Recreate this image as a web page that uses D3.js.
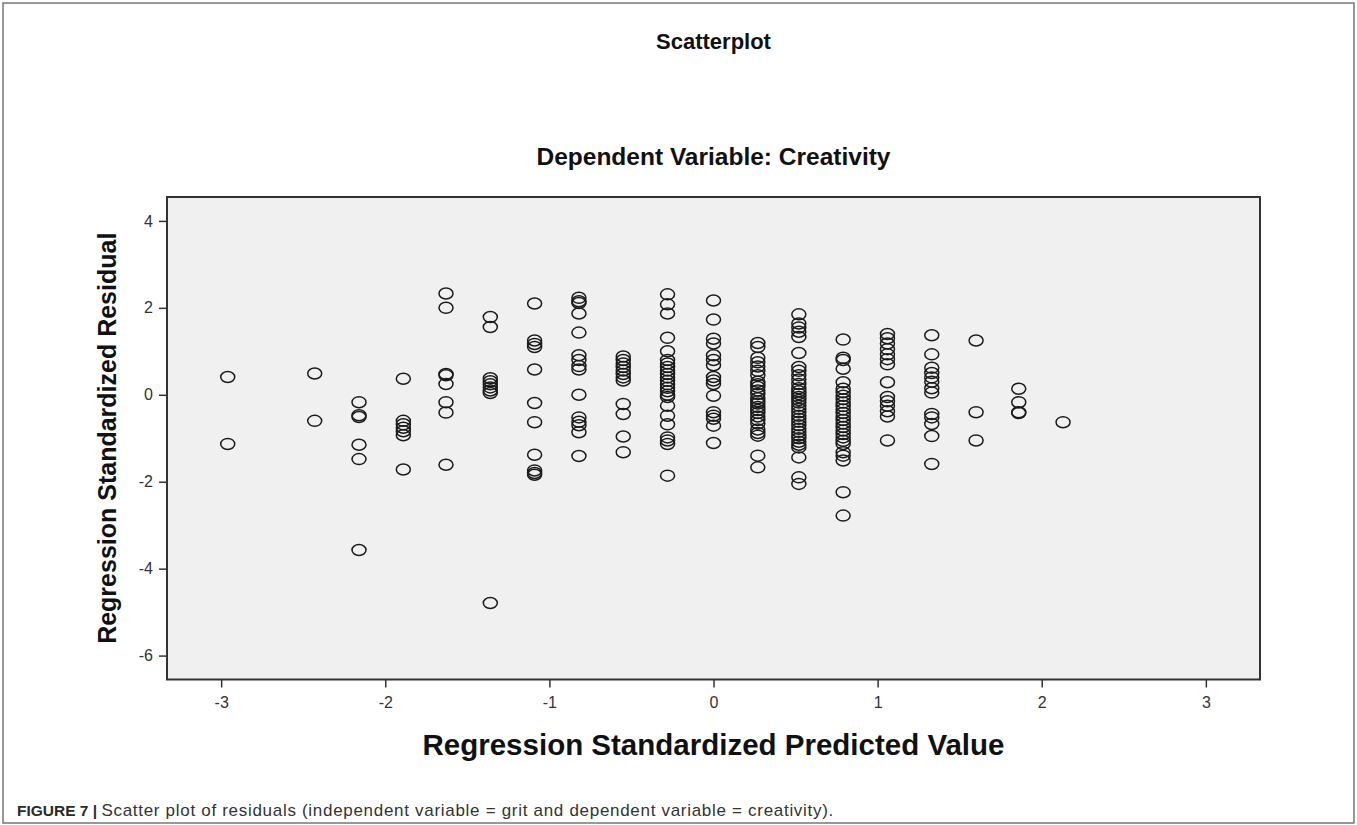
<!DOCTYPE html>
<html>
<head>
<meta charset="utf-8">
<script src="https://cdn.jsdelivr.net/npm/d3@7"></script>
<style>
  body { margin: 0; background: #fff; }
  svg text { font-family: "Liberation Sans", Arial, sans-serif; }
</style>
</head>
<body>
<div id="chart"></div>
<script>
// predicted value columns (x) and the residuals (y)
const predicted = [-2.96, -2.43, -2.16, -1.89, -1.63, -1.36, -1.09, -0.82, -0.55, -0.28,
                   0.00, 0.27, 0.52, 0.79, 1.06, 1.33, 1.60, 1.86, 2.13];
const residuals = [
  [0.41, -1.13],
  [0.49, -0.60],
  [-0.17, -0.47, -0.51, -1.15, -1.48, -3.57],
  [0.37, -0.60, -0.68, -0.76, -0.84, -0.93, -1.72],
  [2.33, 2.00, 0.48, 0.45, 0.25, -0.17, -0.41, -1.61],
  [1.79, 1.56, 0.38, 0.31, 0.24, 0.17, 0.10, 0.04, -4.79],
  [2.10, 1.25, 1.17, 1.10, 0.58, -0.19, -0.63, -1.38, -1.74, -1.80, -1.84],
  [2.23, 2.15, 2.11, 1.87, 1.43, 0.91, 0.80, 0.66, 0.58, 0.00, -0.52, -0.62, -0.70, -0.86, -1.41],
  [0.88, 0.80, 0.72, 0.64, 0.56, 0.48, 0.40, 0.33, -0.21, -0.44, -0.96, -1.32],
  [2.31, 2.08, 1.87, 1.31, 1.00, 0.80, 0.72, 0.64, 0.56, 0.48, 0.40, 0.32, 0.24, 0.16, 0.08,
   0.00, -0.05, -0.25, -0.48, -0.68, -0.98, -1.05, -1.13, -1.86],
  [2.17, 1.73, 1.29, 1.18, 0.91, 0.80, 0.68, 0.41, 0.33, 0.25, -0.02, -0.40, -0.48, -0.55, -0.71, -1.11],
  [1.19, 1.10, 0.85, 0.75, 0.65, 0.55, 0.45, 0.30, 0.24, 0.18, 0.10, 0.02, -0.08, -0.15, -0.20,
   -0.28, -0.35, -0.42, -0.50, -0.58, -0.66, -0.80, -0.88, -0.94, -1.40, -1.67],
  [1.85, 1.64, 1.55, 1.45, 1.33, 0.96, 0.64, 0.55, 0.45, 0.35, 0.25, 0.15, 0.08, 0.02, -0.05,
   -0.12, -0.18, -0.25, -0.32, -0.40, -0.48, -0.55, -0.62, -0.70, -0.78, -0.85, -0.93, -1.00,
   -1.08, -1.15, -1.21, -1.44, -1.90, -2.05],
  [1.27, 0.85, 0.80, 0.60, 0.29, 0.14, 0.06, -0.02, -0.10, -0.18, -0.26, -0.34, -0.42, -0.50,
   -0.58, -0.66, -0.74, -0.82, -0.90, -0.98, -1.06, -1.13, -1.32, -1.40, -1.51, -2.24, -2.78],
  [1.40, 1.30, 1.18, 1.05, 0.93, 0.82, 0.70, 0.29, -0.05, -0.15, -0.25, -0.38, -0.50, -1.05],
  [1.37, 0.93, 0.62, 0.50, 0.40, 0.30, 0.15, 0.05, -0.44, -0.52, -0.67, -0.95, -1.59],
  [1.25, -0.40, -1.05],
  [0.14, -0.17, -0.40, -0.42],
  [-0.63]
];
const xTicks = [-3, -2, -1, 0, 1, 2, 3];
const yTicks = [-6, -4, -2, 0, 2, 4];

const width = 1357, height = 825;
const plot = { left: 167, right: 1260, top: 197, bottom: 679.5 };

const points = [];
predicted.forEach((p, i) => residuals[i].forEach(r => points.push({ x: p, y: r })));

const svg = d3.select("#chart").append("svg")
    .attr("width", width)
    .attr("height", height);

// outer frame of the figure
svg.append("rect")
    .attr("x", 3).attr("y", 3)
    .attr("width", width - 6).attr("height", height - 5)
    .attr("fill", "none")
    .attr("stroke", "#777")
    .attr("stroke-width", 1.5);

const x = d3.scaleLinear().domain([-3.33, 3.33]).range([plot.left, plot.right]);
const y = d3.scaleLinear().domain([-6.55, 4.55]).range([plot.bottom, plot.top]);

svg.append("rect")
    .attr("x", plot.left).attr("y", plot.top)
    .attr("width", plot.right - plot.left)
    .attr("height", plot.bottom - plot.top)
    .attr("fill", "#f0f0f0")
    .attr("stroke", "#333")
    .attr("stroke-width", 2);

const xAxis = svg.append("g")
    .attr("transform", `translate(0,${plot.bottom})`)
    .call(d3.axisBottom(x).tickValues(xTicks).tickSize(8).tickPadding(9).tickFormat(d => String(d)));
const yAxis = svg.append("g")
    .attr("transform", `translate(${plot.left},0)`)
    .call(d3.axisLeft(y).tickValues(yTicks).tickSize(8).tickPadding(6).tickFormat(d => String(d)));
[xAxis, yAxis].forEach(a => {
  a.select(".domain").remove();
  a.selectAll(".tick line").attr("stroke", "#333").attr("stroke-width", 1.5);
  a.selectAll(".tick text")
    .attr("fill", "#333")
    .style("font-size", "16px")
    .style("font-family", "'Liberation Sans', Arial, sans-serif");
});

svg.append("g")
  .selectAll("ellipse")
  .data(points)
  .enter()
  .append("ellipse")
    .attr("cx", d => x(d.x))
    .attr("cy", d => y(d.y))
    .attr("rx", 7)
    .attr("ry", 5.5)
    .attr("fill", "none")
    .attr("stroke", "#1a1a1a")
    .attr("stroke-width", 1.5);

const cx = (plot.left + plot.right) / 2;
svg.append("text")
    .attr("x", cx).attr("y", 49)
    .attr("text-anchor", "middle")
    .style("font-size", "22px").style("font-weight", "bold")
    .attr("fill", "#111")
    .text("Scatterplot");
svg.append("text")
    .attr("x", cx).attr("y", 165)
    .attr("text-anchor", "middle")
    .style("font-size", "24.5px").style("font-weight", "bold")
    .attr("fill", "#111")
    .text("Dependent Variable: Creativity");
svg.append("text")
    .attr("x", cx).attr("y", 755)
    .attr("text-anchor", "middle")
    .style("font-size", "29.5px").style("font-weight", "bold")
    .attr("fill", "#111")
    .text("Regression Standardized Predicted Value");
svg.append("text")
    .attr("transform", `translate(116,${(plot.top + plot.bottom) / 2}) rotate(-90)`)
    .attr("text-anchor", "middle")
    .style("font-size", "25px").style("font-weight", "bold")
    .attr("fill", "#111")
    .text("Regression Standardized Residual");

const caption = svg.append("text")
    .attr("x", 17).attr("y", 816)
    .attr("fill", "#333");
caption.append("tspan").style("font-size", "15.5px").style("font-weight", "bold").attr("fill", "#2a2a2a").text("FIGURE 7 | ");
caption.append("tspan")
    .style("font-size", "17px").style("letter-spacing", "0.7px")
    .text("Scatter plot of residuals (independent variable = grit and dependent variable = creativity).");
</script>
</body>
</html>
